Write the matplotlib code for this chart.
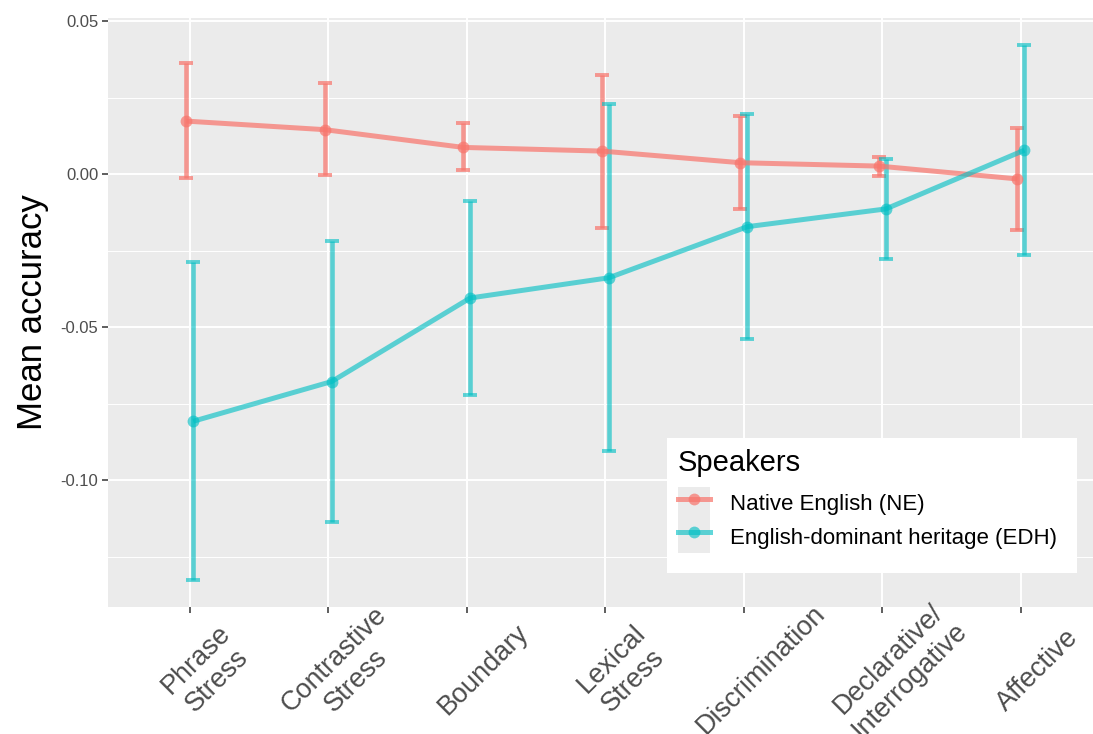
import numpy as np
import matplotlib
matplotlib.use('Agg')
import matplotlib.pyplot as plt
import matplotlib.transforms as mtransforms
from matplotlib.lines import Line2D
from matplotlib.patches import Patch, Rectangle
from matplotlib.ticker import MultipleLocator, FixedLocator

plt.rcParams['font.family'] = ['Liberation Sans', 'DejaVu Sans']

tasks = ['Phrase\nStress', 'Contrastive\nStress', 'Boundary', 'Lexical\nStress',
         'Discrimination', 'Declarative/\nInterrogative', 'Affective']

# Native English (NE)
ne_mean = [0.0173, 0.0145, 0.0087, 0.0075, 0.0037, 0.0026, -0.0016]
ne_upper = [0.0362, 0.0299, 0.0166, 0.0324, 0.0190, 0.0056, 0.0151]
ne_lower = [-0.0013, -0.0004, 0.0012, -0.0175, -0.0113, -0.0007, -0.0184]

# English-dominant heritage (EDH)
edh_mean = [-0.0808, -0.0678, -0.0405, -0.0339, -0.0172, -0.0114, 0.0078]
edh_upper = [-0.0288, -0.0219, -0.0088, 0.0229, 0.0195, 0.0049, 0.0422]
edh_lower = [-0.1328, -0.1137, -0.0723, -0.0905, -0.0539, -0.0278, -0.0264]

ne_col = '#F8766D'
edh_col = '#00BFC4'
ne_alpha = 0.72
edh_alpha = 0.62

fig = plt.figure(figsize=(10.93, 7.34), dpi=100)
ax = fig.add_axes([0.0988, 0.173, 0.9012, 0.8025])
ax.set_facecolor('#EBEBEB')
for s in ax.spines.values():
    s.set_visible(False)

x = np.arange(1, len(tasks) + 1)
dodge = 0.025

for means, up, lo, col, a, off in [(ne_mean, ne_upper, ne_lower, ne_col, ne_alpha, -dodge),
                                   (edh_mean, edh_upper, edh_lower, edh_col, edh_alpha, dodge)]:
    m = np.array(means)
    err = [m - np.array(lo), np.array(up) - m]
    ax.errorbar(x + off, m, yerr=err, fmt='none', ecolor=col, elinewidth=3.3,
                capsize=4.8, capthick=2.8, alpha=a, zorder=3)
    ax.plot(x + off, m, color=col, lw=3.6, alpha=a, zorder=4,
            solid_capstyle='butt')
    ax.plot(x + off, m, 'o', color=col, ms=8.5, alpha=a, mew=0, zorder=5)

ax.set_xlim(0.41, 7.52)
ax.set_ylim(-0.1415, 0.051)

# x labels: rotated, centred a bit below and right of each tick
ax.xaxis.set_major_locator(FixedLocator(x))
ax.set_xticklabels([''] * len(tasks))
lab_tr = ax.get_xaxis_transform() + mtransforms.ScaledTranslation(
    0.17, -0.63, fig.dpi_scale_trans)
for xi, name in zip(x, tasks):
    ax.text(xi, 0, name, transform=lab_tr, rotation=45, ha='center',
            va='center', multialignment='center', fontsize=19.5,
            color='#4D4D4D', clip_on=False)

ax.yaxis.set_minor_locator(MultipleLocator(0.025))
ax.set_yticks([0.05, 0.0, -0.05, -0.10])
ax.set_yticklabels(['0.05', '0.00', '-0.05', '-0.10'], fontsize=12,
                   color='#4D4D4D')
ax.tick_params(axis='both', which='major', length=4, width=1.1,
               color='#333333')
ax.tick_params(axis='y', which='major', pad=3)
ax.tick_params(axis='y', which='minor', length=0)
ax.grid(which='major', color='white', lw=1.4)
ax.grid(which='minor', axis='y', color='white', lw=0.7)
ax.set_axisbelow(True)

ax.set_ylabel('Mean accuracy', fontsize=25, labelpad=8)

# legend: white box drawn separately so the bottom margin matches
box = (0.5675, 0.0577, 0.4162, 0.2292)
ax.add_patch(Rectangle(box[:2], box[2], box[3], transform=ax.transAxes,
                       facecolor='white', edgecolor='none', zorder=5.5))
bg = Patch(facecolor='#EBEBEB', edgecolor='none')
h_ne = Line2D([], [], color=ne_col, lw=3.6, marker='o', ms=8.5, mew=0,
              alpha=ne_alpha)
h_edh = Line2D([], [], color=edh_col, lw=3.6, marker='o', ms=8.5, mew=0,
               alpha=edh_alpha)
leg = ax.legend([(bg, h_ne), (bg, h_edh)],
                ['Native English (NE)', 'English-dominant heritage (EDH)'],
                title='Speakers', title_fontsize=21, fontsize=16,
                loc='upper left', bbox_to_anchor=box,
                mode='expand', borderaxespad=0, frameon=False,
                handlelength=1.44, handleheight=1.91, handletextpad=0.9,
                labelspacing=0, borderpad=0.5, alignment='left')
leg.set_zorder(6)
leg._legend_box.sep = 7

fig.savefig('out.png', dpi=100)
